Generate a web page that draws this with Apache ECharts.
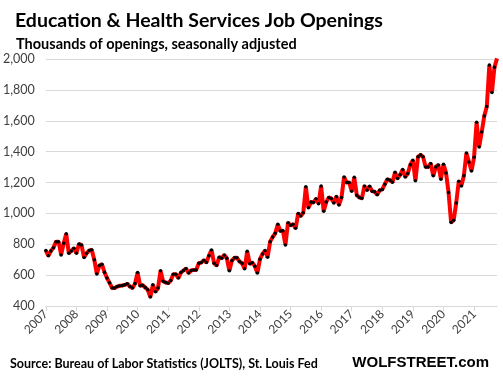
<!DOCTYPE html>
<html>
<head>
<meta charset="utf-8">
<script src="https://cdn.jsdelivr.net/npm/echarts@6/dist/echarts.min.js"></script>
<style>
  html, body { margin: 0; padding: 0; background: #fff; }
  #chart { width: 503px; height: 376px; }
</style>
</head>
<body>
<div id="chart"></div>
<script>
// JOLTS job openings, education & health services, thousands (monthly, Jan 2007 - Oct 2021)
const years = [2007, 2008, 2009, 2010, 2011, 2012, 2013, 2014, 2015, 2016, 2017, 2018, 2019, 2020, 2021]
const openings2007 = [759, 725, 757, 778, 817, 817, 731, 806, 868, 742, 757, 774]
const openings2008 = [742, 802, 795, 714, 742, 759, 765, 700, 608, 662, 671, 619]
const openings2009 = [581, 550, 516, 516, 526, 531, 533, 537, 544, 526, 516, 545]
const openings2010 = [617, 531, 535, 520, 505, 458, 537, 492, 516, 628, 561, 552]
const openings2011 = [548, 565, 606, 606, 581, 617, 630, 643, 613, 630, 634, 634]
const openings2012 = [677, 681, 697, 681, 726, 763, 677, 662, 716, 710, 731, 710]
const openings2013 = [628, 694, 712, 712, 688, 677, 641, 755, 673, 681, 658, 613]
const openings2014 = [703, 737, 759, 716, 817, 847, 871, 929, 886, 888, 795, 939]
const openings2015 = [923, 929, 903, 1000, 983, 1004, 1172, 1036, 1073, 1071, 1094, 1063]
const openings2016 = [1177, 1014, 1073, 1103, 1097, 1068, 1110, 1054, 1103, 1236, 1200, 1200]
const openings2017 = [1144, 1234, 1118, 1103, 1097, 1178, 1150, 1176, 1144, 1140, 1120, 1150]
const openings2018 = [1155, 1189, 1221, 1215, 1202, 1266, 1226, 1250, 1284, 1236, 1258, 1315]
const openings2019 = [1344, 1212, 1366, 1379, 1366, 1301, 1301, 1323, 1243, 1301, 1314, 1221]
const openings2020 = [1318, 1262, 1135, 941, 955, 1068, 1208, 1178, 1243, 1391, 1333, 1275]
const openings2021 = [1363, 1591, 1430, 1527, 1630, 1692, 1961, 1783, 1946, 2004]

const yTicks = { min: 400, max: 2000, step: 200 }

const byYear = [openings2007, openings2008, openings2009, openings2010, openings2011,
  openings2012, openings2013, openings2014, openings2015, openings2016, openings2017,
  openings2018, openings2019, openings2020, openings2021]

let months = []
let values = []
byYear.forEach((arr, k) => {
  arr.forEach((v, m) => {
    months.push(years[k] + '-' + String(m + 1).padStart(2, '0'))
    values.push(v)
  })
})

const labelFont = 'Lato, "Open Sans", sans-serif'

let chart = echarts.init(document.getElementById('chart'))
let option = {
  animation: false,
  backgroundColor: '#fff',
  title: [
    {
      text: 'Education & Health Services Job Openings',
      left: 10, top: 6,
      textStyle: { fontFamily: labelFont, fontWeight: 'bold', fontSize: 19.5, color: '#000' }
    },
    {
      text: 'Thousands of openings, seasonally adjusted',
      left: 11, top: 32,
      textStyle: { fontFamily: labelFont, fontWeight: 'bold', fontSize: 14.5, color: '#000' }
    },
    {
      text: 'Source: Bureau of Labor Statistics (JOLTS), St. Louis Fed',
      left: 5, top: 352,
      textStyle: { fontFamily: labelFont, fontWeight: 'bold', fontSize: 12.5, color: '#000' }
    },
    {
      text: 'WOLFSTREET.com',
      right: 9, top: 350,
      textStyle: { fontFamily: 'Arial, "Liberation Sans", sans-serif', fontWeight: 'bold', fontSize: 15, color: '#000' }
    }
  ],
  grid: { left: 45, right: 6, top: 59, bottom: 70, containLabel: false },
  xAxis: {
    type: 'category',
    data: months,
    boundaryGap: false,
    axisLine: { lineStyle: { color: '#d9d9d9', width: 1 } },
    axisTick: { interval: 11, length: 5, lineStyle: { color: '#d9d9d9' } },
    axisLabel: {
      interval: 11,
      rotate: 45,
      margin: 6,
      fontFamily: labelFont,
      fontSize: 12,
      color: '#404040',
      formatter: v => v.slice(0, 4)
    },
    splitLine: { show: false }
  },
  yAxis: {
    type: 'value',
    min: yTicks.min,
    max: yTicks.max,
    interval: yTicks.step,
    axisLine: { show: false },
    axisTick: { show: false },
    axisLabel: {
      margin: 11,
      fontFamily: labelFont,
      fontSize: 12.5,
      color: '#404040',
      formatter: v => v.toLocaleString('en-US')
    },
    splitLine: { lineStyle: { color: '#d9d9d9', width: 1 } }
  },
  series: [
    {
      type: 'line',
      data: values,
      symbol: 'circle',
      symbolSize: 3.5,
      showAllSymbol: true,
      itemStyle: { color: '#000' },
      lineStyle: { color: '#ff0000', width: 4 },
      z: 3
    }
  ]
}
chart.setOption(option)
</script>
</body>
</html>
